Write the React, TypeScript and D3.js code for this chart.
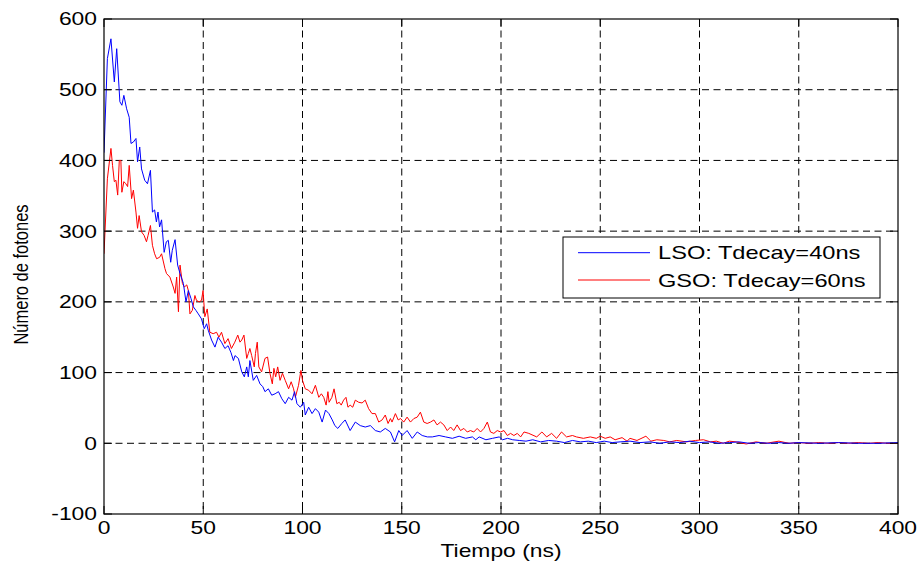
import React from "react";
import * as d3 from "d3";

const W = 919;
const H = 565;

const xTicks = [0, 50, 100, 150, 200, 250, 300, 350, 400];
const yTicks = [-100, 0, 100, 200, 300, 400, 500, 600];
const xLabel = "Tiempo (ns)";
const yLabel = "Número de fotones";
const seriesNames = ["LSO: Tdecay=40ns", "GSO: Tdecay=60ns"];
const seriesColors = ["#0000ff", "#ff0000"];

const lsoT = [0, 1.7, 3.5, 5.2, 6.4, 8, 9, 10, 11.4, 12.7, 13.6, 14.8, 16.1, 16.9, 18, 18.9, 20.5, 21.9, 23.4, 24.4, 25.5, 26.4, 27.2, 28, 29, 30.3, 31.4, 32.4, 33.6, 34.4, 35.8, 37.1, 38.3, 40, 41.3, 42.5, 43.8, 45, 46.3, 47.5, 49.1, 50.5, 51.7, 52.5, 54.2, 55.9, 57.5, 59.2, 60.9, 62.5, 64, 65.2, 66, 67.7, 69.4, 70.7, 71.9, 72.7, 73.5, 75.2, 76.9, 78.6, 80, 81.1, 82.8, 84.5, 86.2, 87.9, 89.6, 91.3, 93, 94.7, 96, 97.2, 98.9, 100.6, 101.4, 103.1, 104.8, 106.5, 108.2, 109.9, 111.6, 113.3, 115, 116.3, 117.8, 119.8, 121.5, 124, 126.6, 129.1, 131.6, 134.2, 136.7, 139.2, 141.7, 144.3, 146.4, 148.5, 150.2, 152.7, 155.3, 157.8, 160.3, 162.9, 165.4, 168.8, 172.1, 175.5, 178.9, 182.2, 185.6, 187.3, 189, 192.4, 195.7, 199.1, 200.8, 203.3, 205.9, 209.2, 212.6, 216, 220, 224, 228, 232, 236, 240, 244, 248, 252, 256, 260, 265, 270, 275, 280, 285, 290, 295, 300, 305, 310, 315, 320, 325, 330, 335, 340, 345, 350, 360, 370, 380, 390, 400];
const lsoV = [411, 544, 572, 511, 558, 483, 478, 492, 473, 461, 424, 426, 431, 398, 419, 388, 372, 367, 386, 327, 330, 313, 327, 306, 316, 270, 285, 287, 256, 273, 288, 252, 240, 226, 200, 216, 205, 193, 188, 183, 176, 162, 169, 160, 146, 136, 150, 143, 134, 138, 128, 117, 124, 120, 101, 94, 108, 94, 117, 89, 96, 84, 80, 73, 77, 68, 70, 73, 63, 56, 65, 61, 73, 56, 51, 58, 40, 51, 42, 49, 44, 30, 47, 42, 33, 25, 21, 28, 33, 18, 30, 25, 23, 25, 18, 16, 21, 16, 2, 18, 11, 18, 7, 16, 11, 9, 9, 11, 9, 7, 10, 7, 9, 5, 9, 5, 7, 9, 5, 7, 5, 4, 3, 5, 2, 4, 3, 1, 4, 2, 3, 1, 3, 1, 2, 3, 1, 2, 0, 2, 1, 3, 1, 2, 0, 1, 2, 0, 1, 0, 1, 0, 1, 0, 1, 0, 0, 1];

const gsoT = [0, 1.7, 3.5, 4.3, 5.2, 6, 6.9, 7.7, 8.5, 9, 10, 11, 11.9, 12.7, 13.9, 14.8, 16.1, 16.9, 17.7, 18.9, 20.2, 21.4, 22.2, 23.4, 24.4, 25.5, 26.5, 28, 29, 30.7, 31.5, 33.2, 34.9, 35.8, 36.6, 37.5, 38.3, 39.5, 40.5, 41.7, 42.5, 43.3, 44.5, 45.8, 46.6, 48, 49.1, 49.9, 50.8, 52, 53.3, 55, 56.7, 57.9, 59.2, 60.9, 62.5, 64.2, 65.9, 67.4, 68.5, 69.4, 70.5, 71.9, 72.7, 73.5, 74.4, 75.7, 76.3, 77.2, 78, 79.4, 81.1, 82.4, 83.6, 84.8, 85.6, 86.5, 87.5, 88.7, 89.9, 91.3, 93, 94.3, 95.5, 96.4, 98, 99.2, 100, 101.4, 103.1, 104.8, 106.5, 108.2, 109.5, 110.7, 111.9, 112.8, 113.4, 114.8, 115.9, 117.3, 118.5, 119.5, 120.7, 121.9, 122.9, 124, 125.3, 126.6, 128.3, 130, 131.6, 133.3, 135, 136.7, 138.4, 140.1, 141.7, 143.1, 144.3, 145.1, 146.8, 148.2, 149.4, 151, 152.7, 154.4, 156.1, 157.8, 159.4, 161.1, 162.8, 164.5, 166.2, 167.8, 169.5, 171.2, 172.9, 174.6, 176.2, 177.9, 179.6, 181.3, 183, 184.6, 186.3, 188, 189.7, 191.4, 193.1, 194.7, 196.4, 198.1, 199.8, 201.5, 203.2, 204.8, 206.5, 208.2, 209.9, 211.6, 214, 218, 220.6, 223, 225.5, 228, 230.5, 233, 236, 238, 241.5, 245, 248, 250, 252.5, 255, 257.5, 261, 263.5, 265, 268.5, 273, 275.5, 278.5, 282, 285, 288.5, 293.5, 298, 302, 305.5, 308.5, 312, 315, 318.5, 323.5, 328.5, 333.5, 340, 345, 350, 355, 360, 365, 370, 375, 380, 385, 390, 395, 400];
const gsoV = [268, 374, 417, 393, 370, 372, 351, 400, 400, 355, 370, 367, 363, 393, 346, 358, 327, 304, 322, 299, 294, 285, 294, 308, 280, 268, 261, 263, 268, 247, 240, 235, 221, 212, 235, 186, 252, 226, 221, 224, 216, 183, 188, 209, 202, 200, 202, 216, 179, 190, 157, 155, 157, 150, 157, 141, 148, 134, 143, 153, 143, 146, 153, 120, 127, 134, 124, 108, 127, 143, 108, 101, 120, 122, 99, 84, 106, 94, 108, 89, 99, 89, 77, 87, 77, 65, 82, 103, 89, 77, 75, 70, 82, 65, 70, 65, 54, 73, 58, 65, 77, 56, 58, 54, 61, 65, 51, 54, 51, 61, 58, 57, 61, 49, 42, 42, 30, 33, 40, 28, 35, 30, 42, 33, 35, 30, 37, 30, 35, 37, 44, 30, 28, 30, 33, 26, 30, 26, 18, 23, 18, 26, 18, 21, 16, 18, 16, 21, 16, 21, 30, 16, 14, 18, 16, 18, 11, 14, 11, 14, 9, 16, 14, 9, 16, 9, 14, 7, 16, 9, 11, 9, 7, 9, 7, 10, 7, 9, 5, 8, 3, 7, 4, 10, 3, 5, 4, 2, 4, 2, 4, 5, 2, 3, 0, 3, 2, -1, 2, 0, 3, 0, 1, 0, 1, 0, 1, 0, 1, 0, 1, 0, 0];

const FONT = "'Liberation Sans', Arial, sans-serif";
const FS = 18;
const SX = 1.27;

function SText({ x, y, anchor = "start", size = FS, children }: any) {
  return (
    <text
      transform={`translate(${x},${y}) scale(${SX},1)`}
      textAnchor={anchor}
      fontFamily={FONT}
      fontSize={size}
      fill="#000"
    >
      {children}
    </text>
  );
}

export default function App() {
  const L = 104, R = 898, T = 19, B = 514;
  const x = d3.scaleLinear().domain([0, 400]).range([L, R]);
  const y = d3.scaleLinear().domain([-100, 600]).range([B, T]);
  const line = d3
    .line<[number, number]>()
    .x((d) => x(d[0]))
    .y((d) => y(d[1]));
  const lso: [number, number][] = lsoT.map((t, i) => [t, lsoV[i]]);
  const gso: [number, number][] = gsoT.map((t, i) => [t, gsoV[i]]);
  const tick = 8;
  const dash = "7,4.5";

  const legX = 563, legY = 237, legW = 317, legH = 61;

  return (
    <svg
      width={W}
      height={H}
      style={{ position: "absolute", left: 0, top: 0, background: "#fff" }}
    >
      <rect x={0} y={0} width={W} height={H} fill="#fff" />
      <defs>
        <clipPath id="clip">
          <rect x={L} y={T} width={R - L} height={B - T} />
        </clipPath>
      </defs>
      {/* grid */}
      {xTicks.slice(1, -1).map((v) => (
        <line key={"gx" + v} x1={x(v)} x2={x(v)} y1={T} y2={B} stroke="#000" strokeWidth={1} strokeDasharray={dash} />
      ))}
      {yTicks.slice(1, -1).map((v) => (
        <line key={"gy" + v} x1={L} x2={R} y1={y(v)} y2={y(v)} stroke="#000" strokeWidth={1} strokeDasharray={dash} />
      ))}
      {/* data */}
      <g clipPath="url(#clip)">
        <path d={line(gso) || ""} fill="none" stroke={seriesColors[1]} strokeWidth={1} />
        <path d={line(lso) || ""} fill="none" stroke={seriesColors[0]} strokeWidth={1} />
      </g>
      {/* ticks */}
      {xTicks.map((v) => (
        <g key={"tx" + v}>
          <line x1={x(v)} x2={x(v)} y1={B} y2={B - tick} stroke="#000" />
          <line x1={x(v)} x2={x(v)} y1={T} y2={T + tick} stroke="#000" />
          <SText x={x(v)} y={534} anchor="middle">{v}</SText>
        </g>
      ))}
      {yTicks.map((v) => (
        <g key={"ty" + v}>
          <line x1={L} x2={L + tick} y1={y(v)} y2={y(v)} stroke="#000" />
          <line x1={R} x2={R - tick} y1={y(v)} y2={y(v)} stroke="#000" />
          <SText x={97} y={y(v) + 6.4} anchor="end">{v}</SText>
        </g>
      ))}
      {/* box */}
      <rect x={L} y={T} width={R - L} height={B - T} fill="none" stroke="#000" strokeWidth={1.2} />
      {/* labels */}
      <SText x={x(200)} y={557}>
        <tspan textAnchor="middle">{xLabel}</tspan>
      </SText>
      <text
        transform={`translate(28,${(T + B) / 2 + 8}) rotate(-90) scale(1,${SX})`}
        textAnchor="middle"
        fontFamily={FONT}
        fontSize={16.5}
        fill="#000"
      >
        {yLabel}
      </text>
      {/* legend */}
      <rect x={legX} y={legY} width={legW} height={legH} fill="#fff" stroke="#000" strokeWidth={1} />
      {seriesNames.map((n, i) => {
        const ly = legY + 15.7 + i * 27.3;
        return (
          <g key={n}>
            <line x1={578} x2={650} y1={ly} y2={ly} stroke={seriesColors[i]} strokeWidth={1} />
            <SText x={658} y={ly + 6.6} size={18.6}>{n}</SText>
          </g>
        );
      })}
    </svg>
  );
}
